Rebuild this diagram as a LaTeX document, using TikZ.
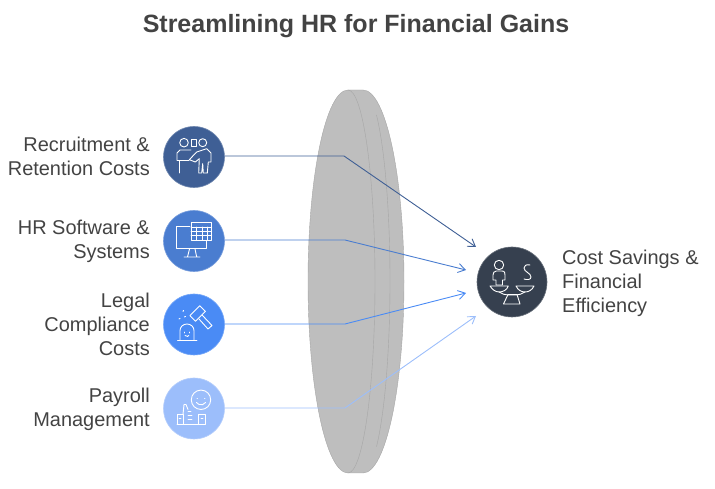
\documentclass[tikz,border=0pt]{standalone}
\usepackage{fontspec}
\setmainfont{Liberation Sans}
\usetikzlibrary{arrows.meta}
\definecolor{recblue}{HTML}{3F5F95}
\definecolor{softblue}{HTML}{4A7DD0}
\definecolor{legalblue}{HTML}{4A8BF5}
\definecolor{payblue}{HTML}{9CBEFB}
\definecolor{costdark}{HTML}{36404F}
\definecolor{lensgray}{HTML}{BEBEBE}
\definecolor{lensline}{HTML}{A6A6A6}
\definecolor{labelgray}{HTML}{434343}
\tikzset{
  hrdot/.style={circle,minimum size=61pt,inner sep=0pt,fill=#1,draw=#1!75!white,line width=.6pt},
  hrlabel/.style={anchor=east,align=right,inner sep=0pt,text=labelgray,font=\fontsize{19.95}{24}\selectfont},
  link/.style={draw=#1,line width=.9pt,-{Straight Barb[length=7pt,width=9pt]}},
  icon/.style={draw=white,line width=.9pt,line join=round,line cap=round}
}
\begin{document}
\begin{tikzpicture}[x=1pt,y=1pt]
\useasboundingbox (0,0) rectangle (715,489);

\node[font=\bfseries\fontsize{25}{30}\selectfont,text=labelgray] (title) at (356,463) {Streamlining HR for Financial Gains};

% lens
\coordinate (lensTL) at (348,399);
\coordinate (lensTR) at (363,399);
\fill[lensgray] (lensTL) arc[start angle=90,end angle=270,x radius=40,y radius=191.5]
  -- ++(15,0) arc[start angle=-90,end angle=90,x radius=41,y radius=191.5] -- cycle;
\draw[lensline] (lensTL) arc[start angle=90,end angle=270,x radius=40,y radius=191.5]
  -- ++(15,0) arc[start angle=-90,end angle=90,x radius=41,y radius=191.5] -- cycle;
\draw[lensline] (lensTL) arc[start angle=90,end angle=-90,x radius=27,y radius=191.5];
\draw[lensline] (376.5,374) arc[start angle=60,end angle=-60,x radius=27,y radius=191.5];

% nodes
\node[hrdot=recblue] (recruit) at (194,332) {};
\node[hrdot=softblue] (software) at (194,248) {};
\node[hrdot=legalblue] (legal) at (194,164.5) {};
\node[hrdot=payblue] (payroll) at (194,80.5) {};
\node[circle,minimum size=70pt,inner sep=0pt,fill=costdark,draw=costdark!75!white,line width=.6pt] (cost) at (512,207) {};

\node[hrlabel] (recruitL) at (150,333) {Recruitment \&\\Retention Costs};
\node[hrlabel] (softwareL) at (150,247.5) {HR Software \&\\Systems};
\node[hrlabel] (legalL) at (150,165) {Legal\\Compliance\\Costs};
\node[hrlabel] (payrollL) at (150,79.5) {Payroll\\Management};
\node[hrlabel,anchor=west,align=left] (costL) at (562,206) {Cost Savings \&\\Financial\\Efficiency};

% connectors
\coordinate (recruitK) at (344,333);
\coordinate (softwareK) at (345,249);
\coordinate (legalK) at (345,165);
\coordinate (payrollK) at (345,81);
\coordinate (recruitE) at (476,242);
\coordinate (softwareE) at (466,219);
\coordinate (legalE) at (466,196);
\coordinate (payrollE) at (476,173);
\draw[link=recblue] (recruit.east |- recruitK) -- (recruitK) -- (recruitE);
\draw[link=softblue] (software.east |- softwareK) -- (softwareK) -- (softwareE);
\draw[link=legalblue] (legal.east |- legalK) -- (legalK) -- (legalE);
\draw[link=payblue] (payroll.east |- payrollK) -- (payrollK) -- (payrollE);

% recruitment icon
\begin{scope}[shift={(recruit)}]
\draw[icon] (-10,14.3) circle (4.3) (8.7,14.3) circle (4);
\draw[icon] (-3,11) rectangle (2,18);
\draw[icon] (-4.7,-2.7) -- (2.7,5) -- (12.7,8.3) -- (17,4) -- (17,-5) -- (14.3,-5) -- (13.3,-16)
  -- (9.3,-16) -- (8.7,-6.7) -- (7.7,-16) -- (4.7,-16) -- (5.3,-1.7) -- (1.3,-5) -- cycle;
\draw[icon] (-3,7) -- (-14,7) -- (-17,4) -- (-17,-3.5) -- (-5,-3.5);
\draw[icon] (-14.5,-3.5) -- (-14.5,-16);
\end{scope}

% software icon
\begin{scope}[shift={(software)}]
\draw[icon] (-4,15) -- (-17.3,15) -- (-17.3,-7.3) -- (12.7,-7.3) -- (12.7,-.3);
\draw[icon] (-4.5,-8) -- (-6.5,-16) (1,-8) -- (2.7,-16) (-10,-16) -- (6,-16);
\draw[icon] (-3,18.3) rectangle (17.7,.7);
\draw[icon] (-3,14) -- (17.7,14) (-3,10) -- (17.7,10) (-3,6) -- (17.7,6);
\draw[icon] (2,14) -- (2,.7) (8,14) -- (8,.7) (13,14) -- (13,.7);
\end{scope}

% legal icon
\begin{scope}[shift={(legal)}]
\draw[icon,rotate around={45:(3.7,11)}] (-3.3,7) rectangle (10.7,15);
\draw[icon] (5,5.5) -- (14,-4.5) -- (18,-1) -- (8.5,9);
\draw[icon] (-16.5,-16) -- (3,-16);
\draw[icon] (-14,-16) -- (-14,-6) arc[start angle=180,end angle=0,x radius=7,y radius=6.5] -- (0,-16);
\draw[icon] (-10,-7.5) -- (-10,-8.5) (-4.5,-7.5) -- (-4.5,-8.5);
\draw[icon] (-9,-11) arc[start angle=200,end angle=340,x radius=2,y radius=1.5];
\draw[icon] (-11,13) -- (-10.5,14) (-9.5,7.5) -- (-8.5,8) (-15,5.5) -- (-14,6);
\end{scope}

% payroll icon
\begin{scope}[shift={(payroll)}]
\draw[icon] (7,8.7) circle (9.7);
\draw[icon] (3,10.5) -- (3.5,10.5) (10.5,10.5) -- (11,10.5);
\draw[icon] (2.5,6) arc[start angle=200,end angle=340,x radius=4.8,y radius=3.5];
\draw[icon] (-17,-16) rectangle (-11,-6) (4.5,-16) rectangle (11,-6);
\draw[icon] (-11,-6) -- (-10,4) -- (-8,4) -- (-6,-1);
\draw[icon] (-17,-16) -- (11,-16);
\draw[icon] (-6,-3) -- (-3,-3) (-6,-7) -- (-2,-7) (-6,-11) -- (-2,-11);
\draw[icon] (-15,-10) -- (-13,-10) (7,-10) -- (9,-10);
\end{scope}

% cost icon
\begin{scope}[shift={(cost)}]
\draw[icon] (-13,17) circle (4.7);
\draw[icon] (-15.5,11) -- (-10.5,11) .. controls (-7,11) and (-7,9) .. (-7,7) -- (-7,2) -- (-9.5,2) -- (-9.5,-3)
  -- (-16,-3) -- (-16,2) -- (-19,2) -- (-19,7) .. controls (-19,9) and (-18,11) .. (-15.5,11);
\draw[icon] (-22,-4) -- (-3.7,-4) .. controls (-5,-8) and (-9,-10) .. (-13,-10) .. controls (-17,-10) and (-20,-7) .. (-22,-4);
\draw[icon] (4,-4) -- (22,-4) .. controls (20,-8) and (17,-10) .. (13,-10) .. controls (9,-10) and (6,-8) .. (4,-4);
\draw[icon] (-13,-10) .. controls (-10,-12) and (-7,-13) .. (-4,-13) -- (4,-13) .. controls (7,-13) and (10,-12) .. (13,-10);
\draw[icon] (-4,-12.5) -- (5,-12.5) -- (8,-22) -- (-8.5,-22) -- cycle;
\draw[icon] (18,17) .. controls (14,18) and (12,16) .. (12,14) .. controls (12,10) and (19,9) .. (19,5)
  .. controls (19,2) and (15,2) .. (12,3);
\end{scope}

\end{tikzpicture}
\end{document}
